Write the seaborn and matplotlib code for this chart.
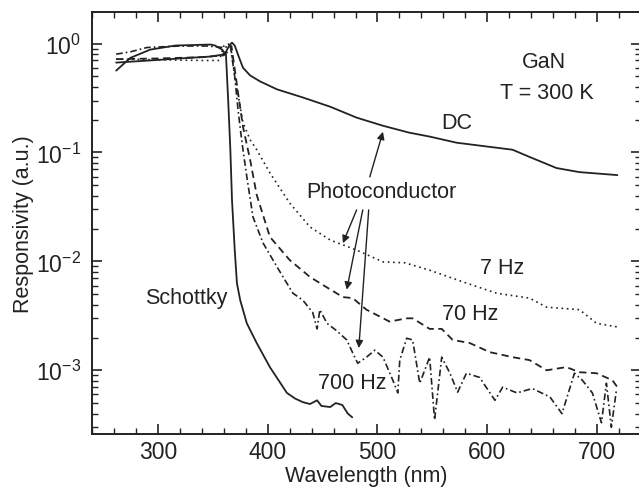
import numpy as np
import pandas as pd
import matplotlib
matplotlib.use("Agg")
import matplotlib.pyplot as plt
from matplotlib.ticker import MultipleLocator, LogLocator, NullFormatter
import seaborn as sns

# ---- data ----
schottky_x = [262, 275, 293, 316, 348, 352, 358.5, 362, 364, 366, 367.5, 370, 372, 375, 381, 390,
              402, 417.5, 425, 432, 438.5, 445, 449, 457, 462, 468, 473, 477]
schottky_y = [0.565, 0.74, 0.88, 0.96, 0.98, 0.96, 0.88, 0.79, 0.305, 0.106, 0.0367, 0.0127, 0.0063,
              0.0044, 0.0027, 0.00178, 0.00107, 0.00062, 0.00055, 0.00051, 0.00049, 0.00053, 0.00047,
              0.00046, 0.0005, 0.00048, 0.0004, 0.00037]

dc_x = [262, 293, 320, 347.5, 358.5, 362, 365, 367.5, 370, 373, 377.5, 384, 393, 408.5, 432, 457, 481,
        505, 529, 547.5, 572, 623, 638.5, 663, 684, 718.5]
dc_y = [0.669, 0.70, 0.73, 0.76, 0.79, 0.84, 0.96, 1.02, 0.96, 0.79, 0.60, 0.51, 0.45, 0.38, 0.32,
        0.263, 0.209, 0.176, 0.152, 0.14, 0.123, 0.106, 0.091, 0.072, 0.066, 0.062]

hz7_x = [262, 300, 340, 356, 360, 366, 370, 377.5, 384, 390, 402, 420, 438.5, 457, 481, 505, 525,
         547.5, 577.5, 608.5, 638.5, 654, 684, 699.5, 718.5]
hz7_y = [0.72, 0.71, 0.70, 0.70, 0.95, 1.0, 0.5, 0.188, 0.131, 0.106, 0.065, 0.0344, 0.0207, 0.0157,
         0.0127, 0.0099, 0.0097, 0.0083, 0.0065, 0.0051, 0.0046, 0.0038, 0.0036, 0.0027, 0.0025]

hz70_x = [262, 300, 340, 360, 364, 367, 373, 377.5, 384, 390, 402, 420, 438.5, 450, 468.5, 477.5,
          490, 511, 526.5, 532, 547.5, 558.5, 568.5, 584, 602, 623, 638.5, 654, 672, 684, 699.5,
          714, 718.5]
hz70_y = [0.72, 0.73, 0.75, 0.78, 0.85, 0.95, 0.354, 0.172, 0.0857, 0.0408, 0.0168, 0.0103, 0.0072,
          0.0061, 0.0047, 0.0046, 0.0036, 0.0028, 0.0030, 0.0030, 0.0024, 0.0024, 0.0019, 0.00178,
          0.00147, 0.00132, 0.00124, 0.0010, 0.00107, 0.00096, 0.00094, 0.00081, 0.0007]

hz700_x = [262, 275, 290, 320, 345, 360, 366, 370, 373, 376.6, 381, 386.6, 395.7, 408.5, 414, 423,
           432, 441, 445, 447.5, 454, 463, 472, 477.5, 482, 490, 497.5, 505, 514, 518.5, 520.3,
           526.6, 532, 538.5, 547.5, 552, 558.5, 566, 573, 581, 593, 607, 614, 627, 641, 657,
           668, 679.4, 686.6, 695.7, 704, 708.5, 713, 717.6]
hz700_y = [0.80, 0.84, 0.92, 0.95, 0.95, 0.92, 0.95, 0.497, 0.247, 0.123, 0.0598, 0.0256, 0.0148,
           0.0089, 0.0072, 0.0051, 0.0044, 0.0034, 0.0024, 0.0036, 0.0027, 0.0023, 0.0019, 0.00144,
           0.00116, 0.00132, 0.00153, 0.00132, 0.00081, 0.00062, 0.00124, 0.00197, 0.0019, 0.00076,
           0.00132, 0.00035, 0.00132, 0.00094, 0.00063, 0.00094, 0.00086, 0.00053, 0.0007, 0.00062,
           0.00068, 0.00057, 0.0004, 0.00094, 0.00081, 0.00062, 0.00033, 0.00076, 0.0003, 0.00066]

y_ticks = [1e-3, 1e-2, 1e-1, 1e0]
x_ticks = [300, 400, 500, 600, 700]

# ---- style ----
sns.set_style("ticks")
plt.rcParams["font.family"] = ["Liberation Sans", "DejaVu Sans"]
plt.rcParams["mathtext.fontset"] = "custom"
plt.rcParams["mathtext.rm"] = "Liberation Sans"
plt.rcParams["mathtext.it"] = "Liberation Sans:italic"

INK = "#222222"
fig = plt.figure(figsize=(6.39, 4.89), dpi=100)
ax = fig.add_axes([92 / 639, 1 - 435 / 489, (641 - 92) / 639, (435 - 13) / 489])

series = [
    ("Schottky", schottky_x, schottky_y, "-", 1.3),
    ("DC", dc_x, dc_y, "-", 1.3),
    ("7 Hz", hz7_x, hz7_y, (0, (1, 2.2)), 1.2),
    ("70 Hz", hz70_x, hz70_y, (0, (4, 2.5)), 1.3),
    ("700 Hz", hz700_x, hz700_y, (0, (4, 1.8, 1, 1.8)), 1.2),
]
for name, xs, ys, ls, lw in series:
    df = pd.DataFrame({"x": xs, "y": ys})
    sns.lineplot(data=df, x="x", y="y", ax=ax, color=INK, linestyle=ls,
                 linewidth=lw, sort=False, estimator=None, legend=False)

ax.set_yscale("log")
ax.set_xlim(240, 740)
ax.set_ylim(2.6e-4, 1.95)
ax.set_xticks(x_ticks)
ax.xaxis.set_minor_locator(MultipleLocator(20))
ax.set_yticks(y_ticks)
ax.yaxis.set_minor_locator(LogLocator(base=10, subs=np.arange(2, 10)))
ax.yaxis.set_minor_formatter(NullFormatter())

ax.tick_params(which="both", direction="in", top=True, right=True, color=INK,
               labelsize=16.5, labelcolor=INK)
ax.tick_params(which="major", length=7, width=1.2)
ax.tick_params(which="minor", length=4, width=1.0)
ax.tick_params(axis="y", pad=8)
ax.tick_params(axis="x", pad=4)
for s in ax.spines.values():
    s.set_linewidth(1.4)
    s.set_color(INK)

ax.set_xlabel("Wavelength (nm)", fontsize=15.5, color=INK, labelpad=2)
ax.set_ylabel("Responsivity (a.u.)", fontsize=15.5, color=INK, labelpad=1.5)

txt = dict(fontsize=15.5, color=INK, ha="center", va="center")
ax.text(651.6, 0.68, "GaN", **txt)
ax.text(654, 0.354, "T = 300 K", **txt)
ax.text(572.5, 0.19, "DC", **txt)
ax.text(504, 0.0435, "Photoconductor", **txt)
ax.text(613.5, 0.0087, "7 Hz", **txt)
ax.text(584, 0.0033, "70 Hz", **txt)
ax.text(477, 0.00078, "700 Hz", **txt)
ax.text(326, 0.0047, "Schottky", **txt)

arrows = [((493, 0.0597), (505, 0.155)),
          ((481, 0.0297), (468.5, 0.0147)),
          ((486.6, 0.0297), (472, 0.0055)),
          ((492, 0.0297), (483, 0.0016))]
for tail, tip in arrows:
    ax.annotate("", xy=tip, xytext=tail,
                arrowprops=dict(arrowstyle="-|>", color=INK, lw=1.0,
                                mutation_scale=11, shrinkA=0, shrinkB=0))

fig.savefig("out.png", dpi=100)
